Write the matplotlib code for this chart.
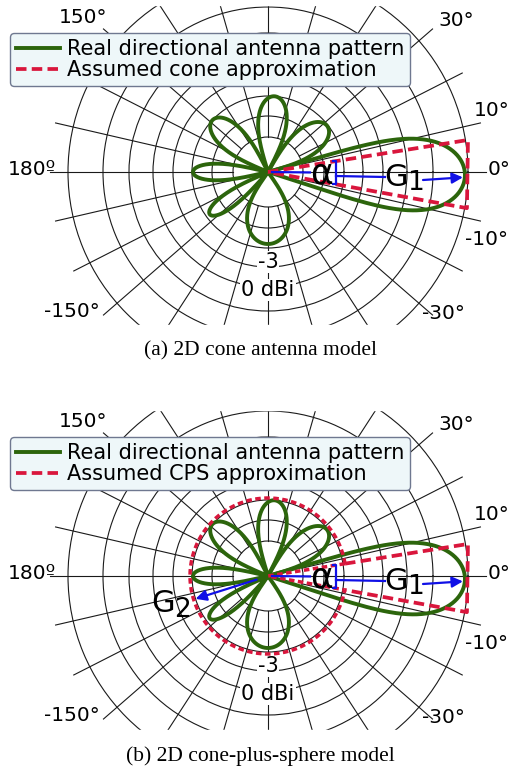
import numpy as np
import matplotlib
matplotlib.use("Agg")
import matplotlib.pyplot as plt
from matplotlib.patches import Rectangle
from matplotlib.lines import Line2D

# ---------------- data ----------------
grid_radii = [35, 56, 76, 95, 115, 139, 165, 200]
spoke_angles = [0, 13, 27, 41, 57, 74, 90, 106, 123, 139, 153, 167, 180,
                -167, -153, -139, -123, -106, -90, -74, -57, -41, -27, -13]
angle_labels = ["150°", "30°", "10°", "0°", "-10°", "-30°", "-150°", "180º"]
angle_label_theta = [140.2, 38.8, 15.5, 0.5, -17.2, -38.9, -144.5, 179.5]
angle_label_r = [241, 242, 232, 231, 229, 225, 241, 236]
radial_labels = ["-3", "0 dBi"]
radial_label_r = [90, 118]

# antenna lobes: direction (deg), gain (radius), half width (deg), bluntness
lobe_dir = [-1.0, 38, 85, 137, 180, 216, 270]
lobe_gain = [197, 75, 76, 76, 75, 72, 72]
lobe_halfwidth = [17, 22, 22, 20, 13, 12, 35]
lobe_shape = [0.22, 0.45, 0.45, 0.45, 0.45, 0.45, 0.45]

# cone approximation: edge angles (deg) and edge lengths
cone_edge_angle = [9.1, -10.3]
cone_edge_r = [202.5, 202.2]
sphere_gain = 78          # G2 (sphere) radius for the CPS model
g2_direction = 197.5

legend_labels_a = ["Real directional antenna pattern", "Assumed cone approximation"]
legend_labels_b = ["Real directional antenna pattern", "Assumed CPS approximation"]
captions = ["(a) 2D cone antenna model", "(b) 2D cone-plus-sphere model"]

# ---------------- styling ----------------
W, H, DPI = 511, 773, 100
GREEN = "#2c650c"
RED = "#d9163c"
BLUE = "#1010e6"
GRID = "#1a1a1a"
R_AX = 226
CX = 268
centers_y = [172, 576]

plt.rcParams["font.family"] = ["DejaVu Sans"]
fig = plt.figure(figsize=(W / DPI, H / DPI), dpi=DPI)
fig.patch.set_facecolor("white")


def P(dx, dy):
    """pixel offset from the pole -> (theta, r) in data units (1 unit = 1 px)"""
    return np.arctan2(dy, dx), np.hypot(dx, dy)


def make_panel(cy, labels, cps):
    ax = fig.add_axes([(CX - R_AX) / W, (H - cy - R_AX) / H,
                       2 * R_AX / W, 2 * R_AX / H], projection="polar")
    ax.set_facecolor("none")
    ax.set_ylim(0, R_AX)
    ax.set_xticks([])
    ax.set_rgrids(grid_radii, labels=[""] * len(grid_radii))
    ax.yaxis.grid(True, color=GRID, lw=0.8)
    ax.spines["polar"].set_visible(False)

    # spokes
    for a in spoke_angles:
        ax.plot([np.radians(a)] * 2, [35, 218], color=GRID, lw=0.8, zorder=1)

    # angle labels
    for lab, t, r in zip(angle_labels, angle_label_theta, angle_label_r):
        ax.text(np.radians(t), r, lab, fontsize=14.5, ha="center", va="center",
                clip_on=False)
    for lab, r in zip(radial_labels, radial_label_r):
        ax.text(np.radians(-90), r, lab, fontsize=15, ha="center", va="center",
                bbox=dict(boxstyle="square,pad=0.05", fc="white", ec="none"),
                zorder=3)

    # antenna pattern lobes
    for d, g, w, p in zip(lobe_dir, lobe_gain, lobe_halfwidth, lobe_shape):
        dl = np.linspace(-w, w, 241)
        rr = g * np.cos(np.pi / 2 * dl / w).clip(0) ** p
        ax.plot(np.radians(d + dl), rr, color=GREEN, lw=2.8, zorder=4,
                solid_joinstyle="round")

    tt, tb = np.radians(cone_edge_angle)
    rt, rb = cone_edge_r
    thick = dict(color=RED, lw=2.7, ls=(0, (2.8, 1.4)), zorder=5)
    thin = dict(color=RED, lw=2.5, ls=(0, (1.6, 1.0)), zorder=5)
    if not cps:
        ax.plot([0, tt, tb, 0], [0, rt, rb, 0], **thick)
    else:
        arc = np.linspace(tt, tb + 2 * np.pi, 300)
        ax.plot(arc, np.full_like(arc, sphere_gain), **thin)
        ax.plot([tt, tt, tb, tb], [sphere_gain, rt, rb, sphere_gain], **thick)
        ax.plot([tt, 0, tb], [sphere_gain, 0, sphere_gain], **thin)

    # blue annotations
    axis_t = (tt + tb) / 2
    ax.plot([axis_t, axis_t], [4, 42], color=BLUE, lw=1.6, zorder=6)
    ax.text(*P(54, -1), "α", fontsize=25, ha="center", va="center", zorder=7)
    bx = 68
    yt, yb = bx * np.tan(tt), bx * np.tan(tb)
    bpts = [P(bx - 3, yt), P(bx, yt), P(bx, yb), P(bx - 3, yb)]
    ax.plot([q[0] for q in bpts], [q[1] for q in bpts], color=BLUE, lw=1.6,
            zorder=6)
    l1, l2 = P(bx, -4), P(117, -5)
    ax.plot([l1[0], l2[0]], [l1[1], l2[1]], color=BLUE, lw=1.6, zorder=6)
    ax.text(*P(128, -5), "G", fontsize=22, ha="center", va="center", zorder=7)
    ax.text(*P(147, -11), "1", fontsize=19, ha="center", va="center", zorder=7)
    tip = (np.radians(lobe_dir[0]) - 0.01, lobe_gain[0] - 2)
    ax.annotate("", xy=tip, xytext=P(155, -8),
                arrowprops=dict(arrowstyle="-|>", color=BLUE, lw=1.6,
                                mutation_scale=16, shrinkA=0, shrinkB=0),
                zorder=7)
    if cps:
        ax.annotate("", xy=(np.radians(g2_direction), sphere_gain - 2),
                    xytext=(np.radians(g2_direction), 12),
                    arrowprops=dict(arrowstyle="-|>", color=BLUE, lw=1.6,
                                    mutation_scale=16, shrinkA=0, shrinkB=0),
                    zorder=7)
        ax.text(*P(-105, -28), "G", fontsize=22, ha="center", va="center",
                zorder=7)
        ax.text(*P(-86, -34), "2", fontsize=19, ha="center", va="center",
                zorder=7)

    handles = [Line2D([], [], color=GREEN, lw=2.8),
               Line2D([], [], color=RED, lw=2.7, ls=(0, (2.8, 1.4)))]
    leg = ax.legend(handles, labels, loc="upper left",
                    bbox_to_anchor=(10 / W, 1 - (cy - 139) / H),
                    bbox_transform=fig.transFigure, fontsize=15,
                    borderaxespad=0, borderpad=0.28, labelspacing=0.05,
                    handlelength=2.1, handletextpad=0.35, framealpha=1,
                    fancybox=True)
    fr = leg.get_frame()
    fr.set_facecolor("#eef7f9")
    fr.set_edgecolor("#6f7890")
    fr.set_linewidth(1.0)
    leg.set_zorder(10)
    return ax


make_panel(centers_y[0], legend_labels_a, cps=False)
make_panel(centers_y[1], legend_labels_b, cps=True)

# rectangular clipping of the polar grids
for y0, y1 in [(0, 5), (325, 410), (730, 773)]:
    fig.add_artist(Rectangle((0, 1 - y1 / H), 1, (y1 - y0) / H,
                             transform=fig.transFigure, color="white",
                             zorder=5))

for cap, y in zip(captions, [351, 756]):
    fig.text(260 / W, 1 - y / H, cap, fontsize=15.5, ha="center",
             va="center", family="Liberation Serif", zorder=6)

fig.savefig("out.png", dpi=DPI)
